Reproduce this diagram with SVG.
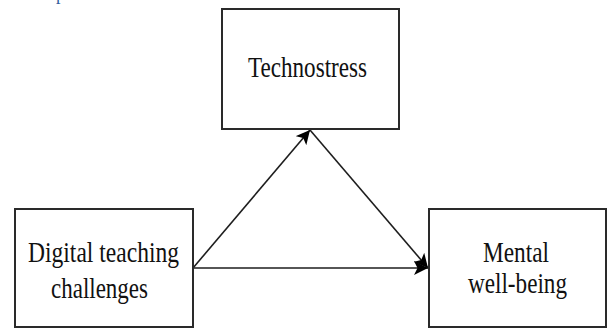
<svg xmlns="http://www.w3.org/2000/svg" width="608" height="329" viewBox="0 0 608 329">
  <style>
    .box { fill: #ffffff; stroke: #2a2a2a; stroke-width: 2; }
    .lbl { font-family: "Liberation Serif", "Times New Roman", serif; font-size: 29px; fill: #111111; }
    .edge { stroke: #1e1e1e; stroke-width: 1.6; fill: none; }
    .frag { font-family: "Liberation Serif", "Times New Roman", serif; font-size: 18px; fill: #2f5f9e; }
  </style>
  <defs>
    <marker id="arrow" viewBox="0 0 10 10" refX="10" refY="5" markerWidth="9" markerHeight="9" markerUnits="userSpaceOnUse" orient="auto">
      <path d="M0,0 L10,5 L0,10 L2.5,5 z" fill="#000000"/>
    </marker>
    <marker id="arrowBig" viewBox="0 0 10 10" refX="10" refY="5" markerWidth="14" markerHeight="14" markerUnits="userSpaceOnUse" orient="auto">
      <path d="M0,0 L10,5 L0,10 L2.5,5 z" fill="#000000"/>
    </marker>
  </defs>
  <rect width="608" height="329" fill="#ffffff"/>
  <text class="frag" x="56" y="0">p</text>

  <g id="connectors">
    <line class="edge" x1="193" y1="268" x2="310" y2="130" marker-end="url(#arrowBig)"/>
    <line class="edge" x1="310" y1="130" x2="428" y2="268" marker-end="url(#arrowBig)"/>
    <line class="edge" x1="193" y1="268" x2="428" y2="268" marker-end="url(#arrowBig)"/>
  </g>

  <g id="technostress">
    <rect class="box" x="222" y="9" width="177" height="120"/>
    <text class="lbl" x="248" y="77" textLength="119" lengthAdjust="spacingAndGlyphs">Technostress</text>
  </g>

  <g id="digital-teaching-challenges">
    <rect class="box" x="15" y="209" width="178" height="118"/>
    <text class="lbl" x="28" y="262" textLength="151" lengthAdjust="spacingAndGlyphs">Digital teaching</text>
    <text class="lbl" x="51" y="298" textLength="97" lengthAdjust="spacingAndGlyphs">challenges</text>
  </g>

  <g id="mental-well-being">
    <rect class="box" x="429" y="209" width="177" height="118"/>
    <text class="lbl" x="483" y="262" textLength="66" lengthAdjust="spacingAndGlyphs">Mental</text>
    <text class="lbl" x="468" y="293" textLength="99" lengthAdjust="spacingAndGlyphs">well-being</text>
  </g>
</svg>
